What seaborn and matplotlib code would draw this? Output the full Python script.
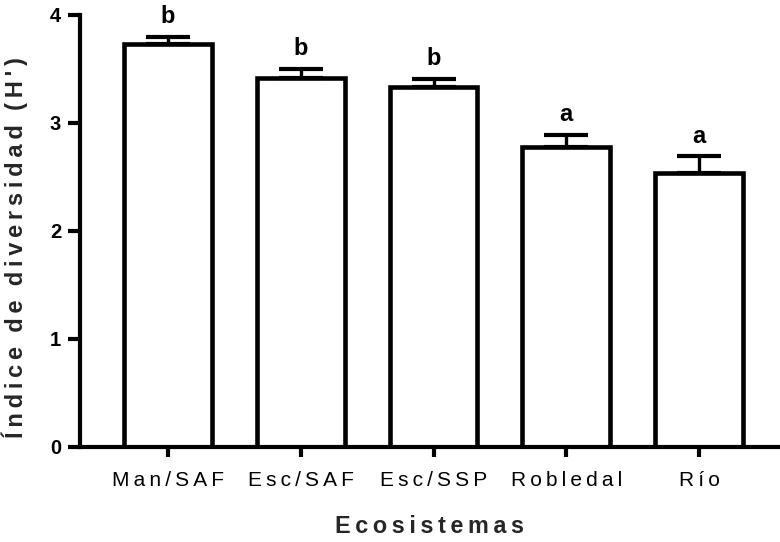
import matplotlib
matplotlib.use("Agg")
import matplotlib.pyplot as plt
import seaborn as sns
import pandas as pd

categories = ["Man/SAF", "Esc/SAF", "Esc/SSP", "Robledal", "Río"]
means = [3.73, 3.42, 3.33, 2.78, 2.54]
sem = [0.07, 0.08, 0.08, 0.11, 0.15]
letters = ["b", "b", "b", "a", "a"]
yticks = [0, 1, 2, 3, 4]

sns.set_theme(style="ticks")
plt.rcParams["font.family"] = ["Liberation Sans", "DejaVu Sans"]

THIN = "\u2009"


def spaced(s):
    words = s.split(" ")
    return (THIN * 3).join(THIN.join(w) for w in words)


df = pd.DataFrame({"cat": categories, "val": means})

fig = plt.figure(figsize=(7.8, 5.42), dpi=100)
ax = fig.add_axes([80 / 780, 1 - 447 / 542, 700 / 780, 432 / 542])

sns.barplot(data=df, x="cat", y="val", ax=ax, color="white", edgecolor="black",
            linewidth=3.3, width=0.66, errorbar=None, saturation=1)

ax.errorbar(range(len(categories)), means, yerr=[[0] * len(sem), sem], fmt="none",
            ecolor="black", elinewidth=2.4, capsize=15.5, capthick=3.0, zorder=1)

for i, (m, e, l) in enumerate(zip(means, sem, letters)):
    ax.text(i, m + e + 0.08, l, ha="center", va="bottom", fontsize=17,
            fontweight="bold", color="black")

ax.set_xlim(-0.663, 4.61)
ax.set_ylim(0, 4)
ax.set_yticks(yticks)
ax.set_yticklabels([str(t) for t in yticks], fontsize=14.5, fontweight="bold")
ax.set_xticks(range(len(categories)))
ax.set_xticklabels([spaced(c) for c in categories], fontsize=15)

for side in ["top", "right"]:
    ax.spines[side].set_visible(False)
for side in ["left", "bottom"]:
    ax.spines[side].set_linewidth(3.0)
    ax.spines[side].set_color("black")

ax.tick_params(axis="y", length=8.5, width=3.0, pad=5, colors="black")
ax.tick_params(axis="x", length=7, width=3.0, pad=10, colors="black")

ax.set_xlabel(spaced("Ecosistemas"), fontsize=16.8, fontweight="bold")
ax.xaxis.set_label_coords(0.499, -0.158)
ax.set_ylabel(spaced("Índice de diversidad (H')"), fontsize=17, fontweight="bold")
ax.yaxis.set_label_coords(-0.074, 0.462)

fig.savefig("out.png", dpi=100, facecolor="white")
